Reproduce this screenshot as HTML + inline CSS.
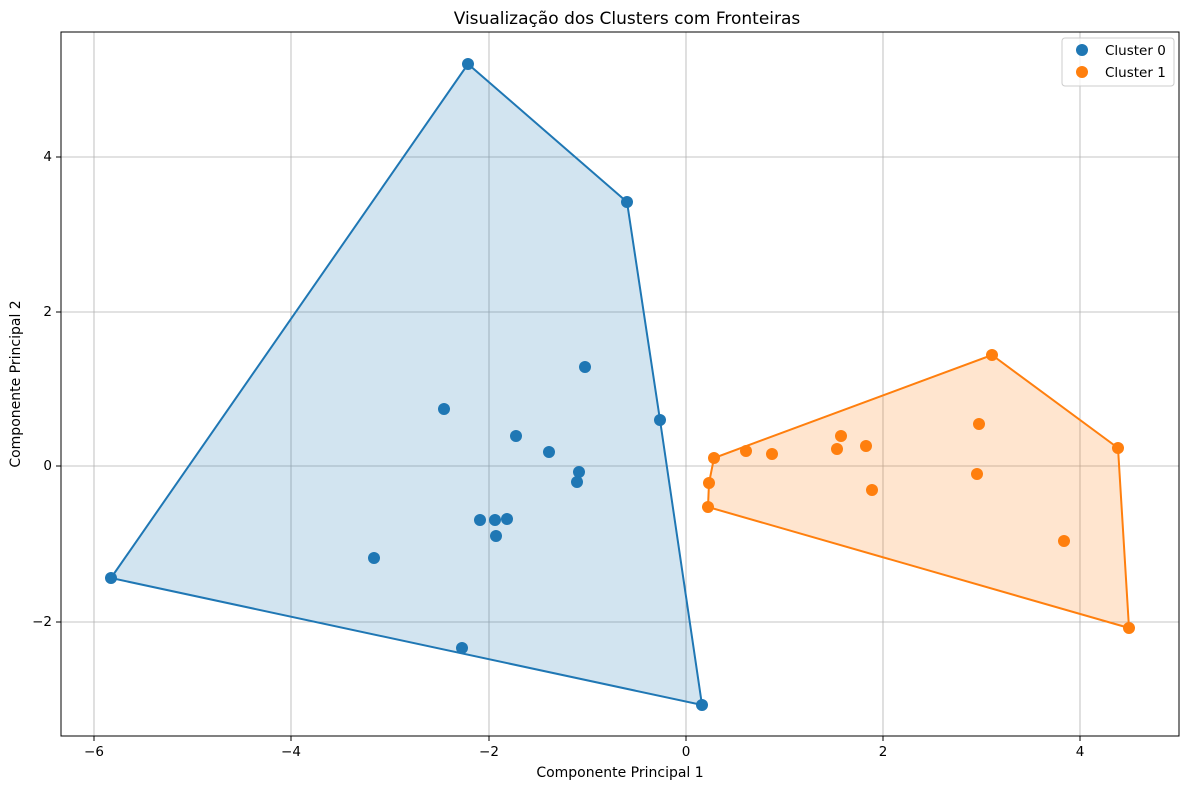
<!DOCTYPE html>
<html><head><meta charset="utf-8"><style>
html,body{margin:0;padding:0;background:#fff;}
text{font-family:"DejaVu Sans","Liberation Sans",sans-serif;}
</style></head><body>
<svg width="1189" height="790" xmlns="http://www.w3.org/2000/svg">
<rect width="1189" height="790" fill="#fff"/>
<g stroke="#b0b0b0" stroke-width="0.8">
<line x1="94" y1="32" x2="94" y2="736"/><line x1="291" y1="32" x2="291" y2="736"/>
<line x1="489" y1="32" x2="489" y2="736"/><line x1="686" y1="32" x2="686" y2="736"/>
<line x1="883" y1="32" x2="883" y2="736"/><line x1="1080" y1="32" x2="1080" y2="736"/>
<line x1="61" y1="157" x2="1179" y2="157"/><line x1="61" y1="312" x2="1179" y2="312"/>
<line x1="61" y1="466" x2="1179" y2="466"/><line x1="61" y1="622" x2="1179" y2="622"/>
</g>
<polygon points="111,578 468,64 627,202 660,420 702,705" fill="#1f77b4" fill-opacity="0.2" stroke="#1f77b4" stroke-width="2"/>
<polygon points="708,507 709,483 714,458 992,355 1118,448 1129,628" fill="#ff7f0e" fill-opacity="0.2" stroke="#ff7f0e" stroke-width="2"/>
<g fill="#1f77b4">
<circle cx="468" cy="64" r="6"/><circle cx="627" cy="202" r="6"/><circle cx="585" cy="367" r="6"/><circle cx="444" cy="409" r="6"/><circle cx="660" cy="420" r="6"/><circle cx="516" cy="436" r="6"/><circle cx="549" cy="452" r="6"/><circle cx="579" cy="472" r="6"/><circle cx="577" cy="482" r="6"/><circle cx="480" cy="520" r="6"/><circle cx="495" cy="520" r="6"/><circle cx="507" cy="519" r="6"/><circle cx="496" cy="536" r="6"/><circle cx="374" cy="558" r="6"/><circle cx="111" cy="578" r="6"/><circle cx="462" cy="648" r="6"/><circle cx="702" cy="705" r="6"/>
</g>
<g fill="#ff7f0e">
<circle cx="992" cy="355" r="6"/><circle cx="979" cy="424" r="6"/><circle cx="1118" cy="448" r="6"/><circle cx="841" cy="436" r="6"/><circle cx="866" cy="446" r="6"/><circle cx="837" cy="449" r="6"/><circle cx="746" cy="451" r="6"/><circle cx="772" cy="454" r="6"/><circle cx="714" cy="458" r="6"/><circle cx="977" cy="474" r="6"/><circle cx="872" cy="490" r="6"/><circle cx="709" cy="483" r="6"/><circle cx="708" cy="507" r="6"/><circle cx="1064" cy="541" r="6"/><circle cx="1129" cy="628" r="6"/>
</g>
<rect x="61" y="32" width="1118" height="704" fill="none" stroke="#000" stroke-width="1"/>
<g stroke="#000" stroke-width="1">
<line x1="94" y1="736" x2="94" y2="741"/><line x1="291" y1="736" x2="291" y2="741"/><line x1="489" y1="736" x2="489" y2="741"/><line x1="686" y1="736" x2="686" y2="741"/><line x1="883" y1="736" x2="883" y2="741"/><line x1="1080" y1="736" x2="1080" y2="741"/>
<line x1="56" y1="157" x2="61" y2="157"/><line x1="56" y1="312" x2="61" y2="312"/><line x1="56" y1="466" x2="61" y2="466"/><line x1="56" y1="622" x2="61" y2="622"/>
</g>
<g font-size="13.5" fill="#000" text-anchor="middle">
<text x="94" y="756">−6</text><text x="291" y="756">−4</text><text x="489" y="756">−2</text><text x="686" y="756">0</text><text x="883" y="756">2</text><text x="1080" y="756">4</text>
</g>
<g font-size="13.5" fill="#000" text-anchor="end">
<text x="52" y="161">4</text><text x="52" y="316">2</text><text x="52" y="470">0</text><text x="52" y="626">−2</text>
</g>
<text x="620" y="777" font-size="14" text-anchor="middle">Componente Principal 1</text>
<text x="20" y="384" font-size="14" text-anchor="middle" transform="rotate(-90 20 384)">Componente Principal 2</text>
<text x="627" y="24" font-size="17" text-anchor="middle">Visualização dos Clusters com Fronteiras</text>
<rect x="1062" y="38" width="112" height="48" rx="3" fill="#fff" fill-opacity="0.8" stroke="#ccc"/>
<circle cx="1082" cy="50" r="6" fill="#1f77b4"/><text x="1105" y="55" font-size="13.5">Cluster 0</text>
<circle cx="1082" cy="72" r="6" fill="#ff7f0e"/><text x="1105" y="77" font-size="13.5">Cluster 1</text>
</svg>
</body></html>
